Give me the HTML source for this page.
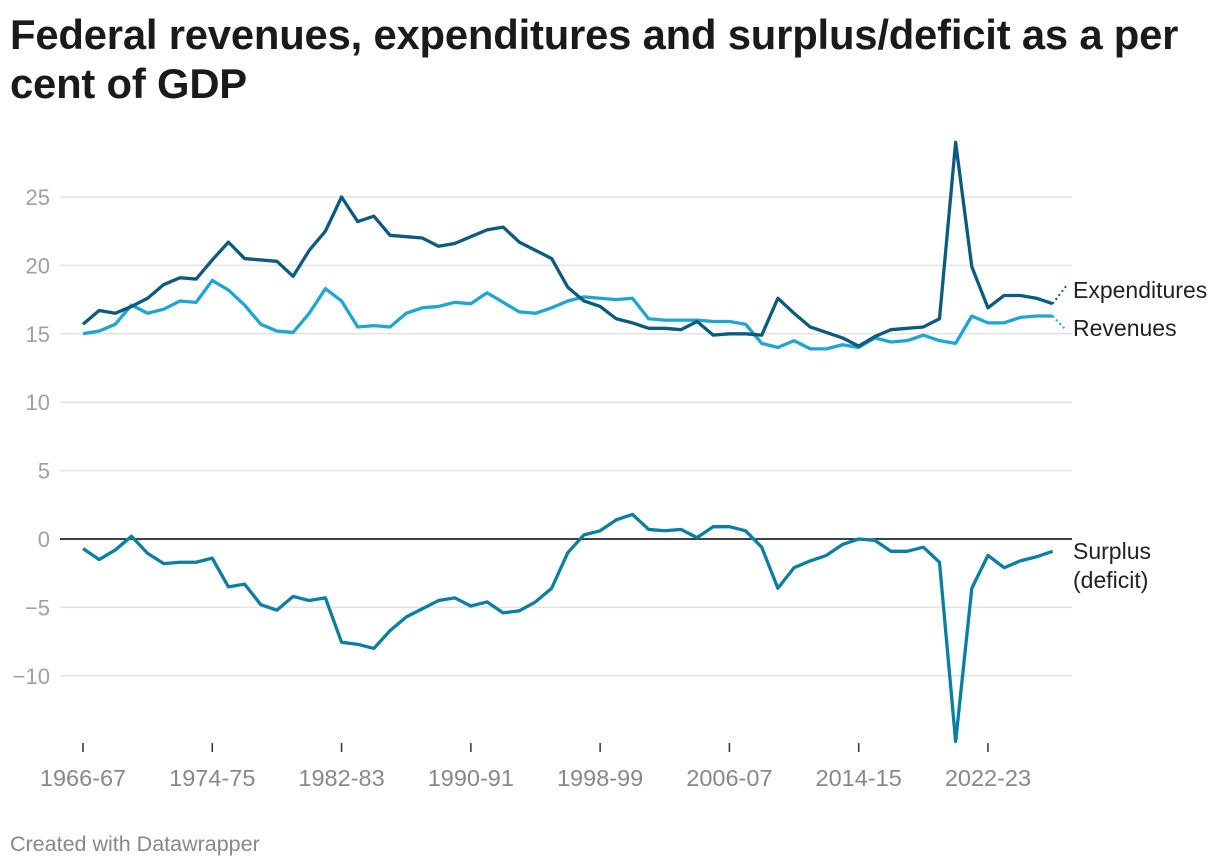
<!DOCTYPE html>
<html><head><meta charset="utf-8"><style>
body{margin:0;background:#fff;width:1220px;height:868px;overflow:hidden;font-family:"Liberation Sans",sans-serif}
h1{position:absolute;left:10px;top:10px;margin:0;font-size:41.8px;line-height:49px;font-weight:bold;color:#1a1a1a;width:1195px;letter-spacing:-0.2px}
#foot{position:absolute;left:10px;top:832px;font-size:21.5px;color:#888}
svg{position:absolute;left:0;top:0}
</style></head><body>
<h1>Federal revenues, expenditures and surplus/deficit as a per cent of GDP</h1>
<svg id="c" width="1220" height="868"></svg>
<div id="foot">Created with Datawrapper</div>
<script>
const startYear=1966;
const xTickLabels=["1966-67","1974-75","1982-83","1990-91","1998-99","2006-07","2014-15","2022-23"];
const yTicks=[25,20,15,10,5,0,-5,-10];
const revenues=[15.0,15.2,15.7,17.1,16.5,16.8,17.4,17.3,18.9,18.2,17.1,15.7,15.2,15.1,16.5,18.3,17.4,15.5,15.6,15.5,16.5,16.9,17.0,17.3,17.2,18.0,17.3,16.6,16.5,16.9,17.4,17.7,17.6,17.5,17.6,16.1,16.0,16.0,16.0,15.9,15.9,15.7,14.3,14.0,14.5,13.9,13.9,14.2,14.0,14.7,14.4,14.5,14.9,14.5,14.3,16.3,15.8,15.8,16.2,16.3,16.3];
const expenditures=[15.7,16.7,16.5,17.0,17.6,18.6,19.1,19.0,20.4,21.7,20.5,20.4,20.3,19.2,21.1,22.5,25.0,23.2,23.6,22.2,22.1,22.0,21.4,21.6,22.1,22.6,22.8,21.7,21.1,20.5,18.4,17.4,17.0,16.1,15.8,15.4,15.4,15.3,15.9,14.9,15.0,15.0,14.9,17.6,16.5,15.5,15.1,14.7,14.1,14.8,15.3,15.4,15.5,16.1,29.0,19.9,16.9,17.8,17.8,17.6,17.2];
const surplus=[-0.7,-1.5,-0.8,0.2,-1.05,-1.8,-1.7,-1.7,-1.4,-3.5,-3.3,-4.8,-5.2,-4.2,-4.5,-4.3,-7.55,-7.7,-8.0,-6.7,-5.7,-5.1,-4.5,-4.3,-4.9,-4.6,-5.4,-5.25,-4.6,-3.6,-1.0,0.3,0.6,1.4,1.8,0.7,0.6,0.7,0.1,0.9,0.9,0.6,-0.6,-3.6,-2.1,-1.6,-1.2,-0.4,0.0,-0.1,-0.9,-0.9,-0.6,-1.7,-14.8,-3.6,-1.2,-2.1,-1.6,-1.3,-0.9];
const NS="http://www.w3.org/2000/svg";
const svg=document.getElementById('c');
const x=i=>83+16.16*i;
const y=v=>539-13.68*v;
function mk(t,a){const e=document.createElementNS(NS,t);for(const k in a)e.setAttribute(k,a[k]);svg.appendChild(e);return e;}
yTicks.forEach(v=>{
  if(v!==0){const g=mk('line',{x1:60,x2:1072,y1:y(v),y2:y(v),stroke:'#e3e3e3','stroke-width':1.5});
  
  }
  const t=mk('text',{x:50,y:y(v)+8,'font-size':22,fill:'#a0a0a0','text-anchor':'end'});
  
  
  t.textContent=v<0?'\u2212'+(-v):v;
});
const z=mk('line',{x1:60,x2:1072,y1:y(0),y2:y(0),stroke:'#000','stroke-width':1.5});


xTickLabels.forEach((l,k)=>{
  const i=parseInt(l)-startYear;
  const tk=mk('line',{x1:x(i),x2:x(i),y1:743,y2:752,stroke:'#333','stroke-width':1.5});
  
  
  const t=mk('text',{x:x(i),y:786,'font-size':23.5,fill:'#888','text-anchor':'middle'});
  
  
  t.textContent=l;
});
function line(d,col,name){
  const p=mk('polyline',{points:d.map((v,i)=>x(i)+','+y(v)).join(' '),fill:'none',stroke:col,'stroke-width':3.3,'stroke-linejoin':'round'});
  
  
  return p;
}
line(revenues,'#1fa5d3','revenues-line');
line(expenditures,'#0b5a80','expenditures-line');
line(surplus,'#0a7ea3','surplus-line');
const n=expenditures.length-1;
const d1=mk('line',{x1:x(n),y1:y(expenditures[n]),x2:1067,y2:285,stroke:'#0b5a80','stroke-width':2,'stroke-dasharray':'2,3'});


const d2=mk('line',{x1:x(n),y1:y(revenues[n]),x2:1066,y2:330,stroke:'#1fa5d3','stroke-width':2,'stroke-dasharray':'2,3'});


[['Expenditures',298,'expenditures-label'],['Revenues',336,'revenues-label'],['Surplus',559,'surplus-label'],['(deficit)',588,'surplus-label-2']].forEach(a=>{
  const t=mk('text',{x:1073,y:a[1],'font-size':23,fill:'#222'});
  
  
  t.textContent=a[0];
});
</script>
</body></html>
